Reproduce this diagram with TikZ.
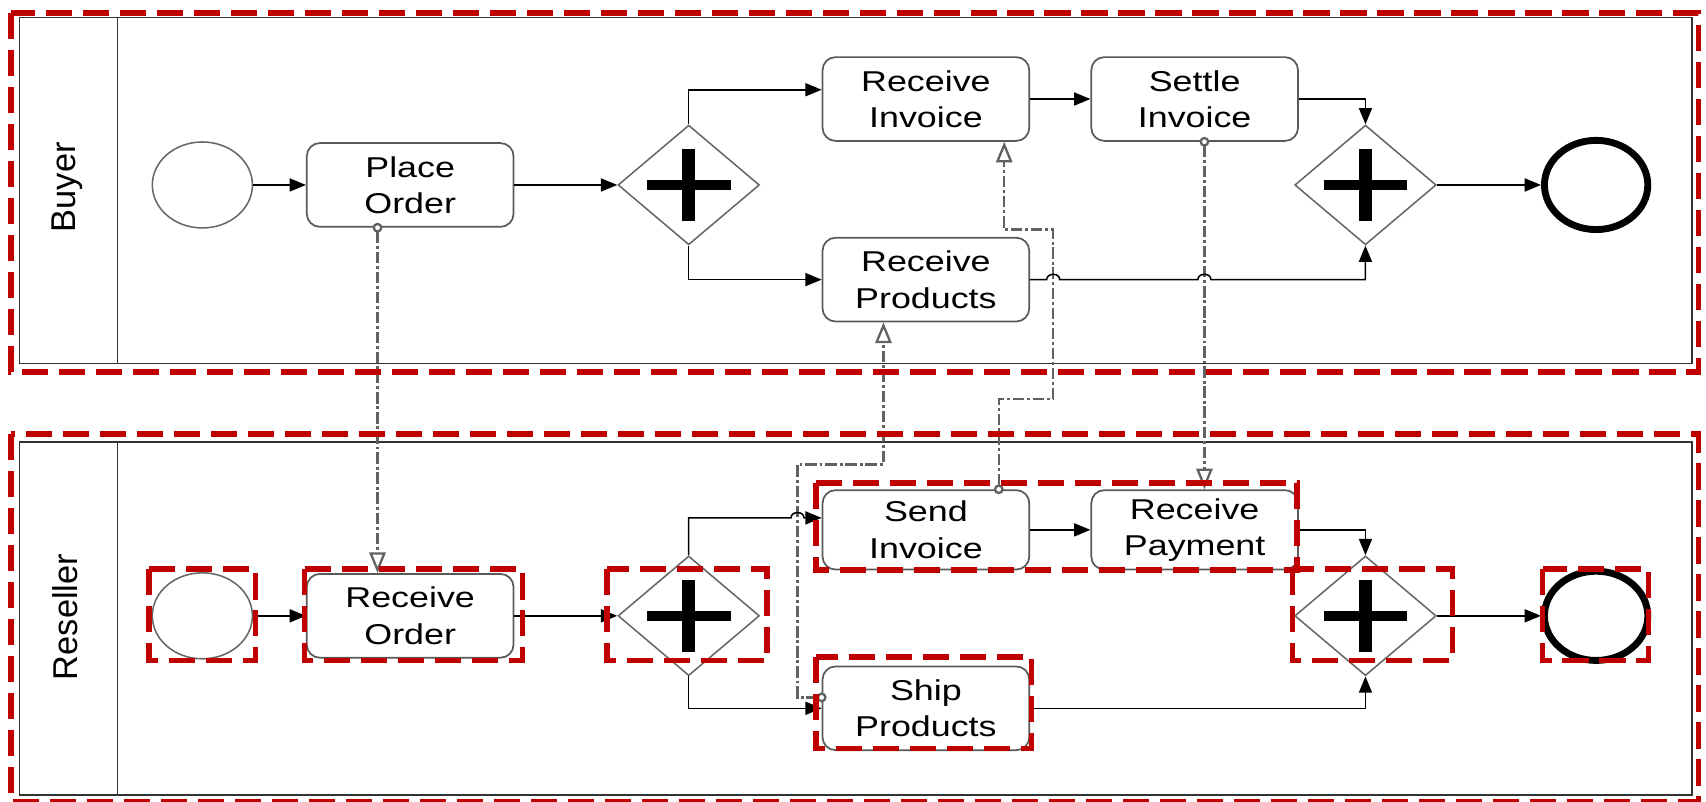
\documentclass[tikz,border=0pt]{standalone}
\usepackage{fontspec}
\setmainfont{Liberation Sans}[FakeStretch=1.25]
\newfontfamily\lanefont{Liberation Sans}
\usetikzlibrary{shapes.geometric, arrows.meta, calc}
\definecolor{hlred}{RGB}{192,0,0}

\begin{document}
\begin{tikzpicture}[
    x=0.2mm, y=-0.2mm,
    % Task (activity) Style
    task/.style={
        rectangle, rounded corners=0.24cm, draw=black!65, line width=0.9pt, fill=white,
        minimum width=3.8cm, minimum height=1.54cm, align=center,
        font=\fontsize{15}{19}\selectfont
    },
    % Start Event Style
    startev/.style={
        ellipse, draw=black!60, line width=0.8pt, fill=white,
        minimum width=1.84cm, minimum height=1.58cm
    },
    % End Event Style
    endev/.style={
        ellipse, draw=black, line width=3.6pt, fill=white,
        minimum width=1.9cm, minimum height=1.64cm
    },
    % Parallel Gateway Style
    gateway/.style={
        diamond, draw=black!60, line width=0.8pt, fill=white,
        minimum width=2.6cm, minimum height=2.2cm, inner sep=0pt,
        path picture={
            \draw[black, line width=0.18cm] ([xshift=-0.77cm]path picture bounding box.center)
                -- ([xshift=0.77cm]path picture bounding box.center);
            \draw[black, line width=0.23cm] ([yshift=-0.66cm]path picture bounding box.center)
                -- ([yshift=0.66cm]path picture bounding box.center);
        }
    },
    % Sequence Flow Style
    seqflow/.style={
        draw=black, line width=0.8pt, -{Triangle[length=0.3cm, width=0.24cm]}
    },
    % Message Flow Style
    msgflow/.style={
        draw=black!62, line width=1.2pt, shorten <=-0.09cm,
        dash pattern=on 6pt off 1.5pt on 1.5pt off 1.5pt,
        {Circle[open, length=0.18cm, fill=white]}-{Triangle[open, length=0.38cm, width=0.3cm, fill=white]}
    },
    % Pool / Lane Style
    pool/.style={draw=black!80, line width=0.9pt},
    lanelabel/.style={rotate=90, font=\lanefont\fontsize{18}{20}\selectfont},
    % Highlight Frame Style
    hlframe/.style={draw=hlred, line width=2.8pt, dash pattern=on 0.48cm off 0.2cm}
]

    \useasboundingbox (0,0) rectangle (1568,737);

    % =========================================================================
    % Pools
    % =========================================================================
    \draw[pool] (18,16) rectangle (1555,334);
    \draw[pool] (108,16) -- (108,334);
    \draw[pool] (18,406) rectangle (1555,731);
    \draw[pool] (108,406) -- (108,731);

    \node[lanelabel] (buyer) at (62,172) {Buyer};
    \node[lanelabel] (reseller) at (60,567) {Reseller};

    % =========================================================================
    % Buyer Lane
    % =========================================================================
    \node[startev] (bstart) at (186,170) {};
    \node[task] (porder) at (377,170) {Place\\Order};
    \node[gateway] (bsplit) at (633,170) {};
    \node[task] (rinv) at (851,91) {Receive\\Invoice};
    \node[task] (rprod) at (851,257) {Receive\\Products};
    \node[task] (settle) at (1098,91) {Settle\\Invoice};
    \node[gateway] (bjoin) at (1255,170) {};
    \node[endev] (bend) at (1467,170) {};

    % =========================================================================
    % Reseller Lane
    % =========================================================================
    \node[startev] (rstart) at (186,566) {};
    \node[task] (rorder) at (377,566) {Receive\\Order};
    \node[gateway] (rsplit) at (633,566) {};
    \node[task, minimum height=1.46cm] (sinv) at (851,487) {Send\\Invoice};
    \node[task, minimum height=1.46cm] (rpay) at (1098,487) {Receive\\Payment};
    \node[task] (ship) at (851,651) {Ship\\Products};
    \node[gateway] (rjoin) at (1255,566) {};
    \node[endev] (rend) at (1467,566) {};

    % bend points and line hops
    \coordinate (hopA) at (968,257);
    \coordinate (hopB) at (1107,257);
    \coordinate (hopC) at (733,476);
    \coordinate (m2low) at (968,367);
    \coordinate (m2high) at (968,211);
    \coordinate (m3turn) at (733,427);

    % =========================================================================
    % Message Flows
    % =========================================================================
    \draw[msgflow] ([xshift=-6mm]porder.south) -- ([xshift=-6mm]rorder.north);
    \draw[msgflow] ([xshift=13.4mm]sinv.north) |- (m2low) -- (m2high)
        -| ([xshift=14.4mm]rinv.south);
    \draw[msgflow] ([yshift=2mm]ship.west) -| (m3turn) -| ([xshift=-7.8mm]rprod.south);
    \draw[msgflow] ([xshift=1.8mm]settle.south) -- ([xshift=1.8mm]rpay.north);

    % =========================================================================
    % Sequence Flows: Buyer
    % =========================================================================
    \draw[seqflow] (bstart) -- (porder);
    \draw[seqflow] (porder) -- (bsplit);
    \draw[seqflow] (bsplit.north) |- ([yshift=1.7mm]rinv.west);
    \draw[seqflow] (bsplit.south) |- (rprod.west);
    \draw[seqflow] (rinv) -- (settle);
    \draw[seqflow] (settle.east) -| (bjoin.north);
    \draw[seqflow] (rprod.east) -- ([xshift=-1.2mm]hopA)
        .. controls ([xshift=-1.2mm, yshift=1.3mm]hopA) and ([xshift=1.2mm, yshift=1.3mm]hopA) .. ([xshift=1.2mm]hopA)
        -- ([xshift=-1.2mm]hopB)
        .. controls ([xshift=-1.2mm, yshift=1.3mm]hopB) and ([xshift=1.2mm, yshift=1.3mm]hopB) .. ([xshift=1.2mm]hopB)
        -| (bjoin.south);
    \draw[seqflow] (bjoin) -- (bend);

    % =========================================================================
    % Sequence Flows: Reseller
    % =========================================================================
    \draw[seqflow] (rstart) -- (rorder);
    \draw[seqflow] (rorder) -- (rsplit);
    \draw[seqflow] (rsplit.north) |- ([xshift=-1.2mm]hopC)
        .. controls ([xshift=-1.2mm, yshift=1.3mm]hopC) and ([xshift=1.2mm, yshift=1.3mm]hopC) .. ([xshift=1.2mm]hopC)
        -- ([yshift=2.2mm]sinv.west);
    \draw[seqflow] (rsplit.south) |- (ship.west);
    \draw[seqflow] (sinv) -- (rpay);
    \draw[seqflow] (rpay.east) -| (rjoin.north);
    \draw[seqflow] (ship.east) -| (rjoin.south);
    \draw[seqflow] (rjoin) -- (rend);

    % =========================================================================
    % Highlight Frames
    % =========================================================================
    \draw[hlframe] (10,12) rectangle (1561,342);
    \draw[hlframe] (10,399) rectangle (1561,737);
    \draw[hlframe] (137,523) rectangle (235,607);
    \draw[hlframe] (280,523) rectangle (480,607);
    \draw[hlframe] (558,523) rectangle (705,607);
    \draw[hlframe] (750,444) rectangle (1192,524);
    \draw[hlframe] (750,604) rectangle (948,688);
    \draw[hlframe] (1188,523) rectangle (1335,607);
    \draw[hlframe] (1418,523) rectangle (1515,607);

\end{tikzpicture}
\end{document}
